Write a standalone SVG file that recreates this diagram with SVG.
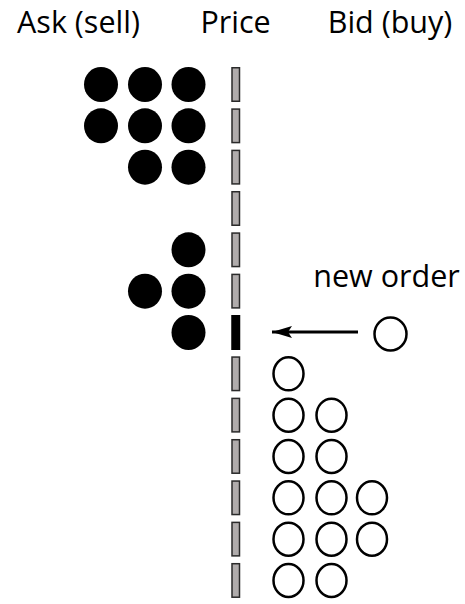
<svg xmlns="http://www.w3.org/2000/svg" width="465" height="604" viewBox="0 0 465 604">
<style>
text{font-family:"Open Sans","DejaVu Sans",sans-serif;font-size:30.5px;fill:#000;text-anchor:middle}
.bar{fill:#b0acac;stroke:#2a2a2a;stroke-width:1.5}
.ask{fill:#000}
.bid{fill:#fff;stroke:#000;stroke-width:2.5}
</style>
<defs>
<marker id="ah" markerWidth="20" markerHeight="12" refX="20" refY="6" orient="auto" markerUnits="userSpaceOnUse">
<path d="M20,6 L0,0 L4,6 L0,12 Z" fill="#000"/>
</marker>
</defs>
<g id="headers">
<text x="78.5" y="32.5">Ask (sell)</text>
<text x="235.5" y="32.5">Price</text>
<text x="390" y="32.5">Bid (buy)</text>
</g>
<g id="price-levels">
<rect class="bar" x="232" y="67.75" width="7.5" height="33.5"/>
<rect class="bar" x="232" y="109.08" width="7.5" height="33.5"/>
<rect class="bar" x="232" y="150.41" width="7.5" height="33.5"/>
<rect class="bar" x="232" y="191.74" width="7.5" height="33.5"/>
<rect class="bar" x="232" y="233.07" width="7.5" height="33.5"/>
<rect class="bar" x="232" y="274.4" width="7.5" height="33.5"/>
<rect id="match-level" x="231.25" y="315" width="9" height="35" fill="#000"/>
<rect class="bar" x="232" y="357.06" width="7.5" height="33.5"/>
<rect class="bar" x="232" y="398.39" width="7.5" height="33.5"/>
<rect class="bar" x="232" y="439.72" width="7.5" height="33.5"/>
<rect class="bar" x="232" y="481.05" width="7.5" height="33.5"/>
<rect class="bar" x="232" y="522.38" width="7.5" height="33.5"/>
<rect class="bar" x="232" y="563.71" width="7.5" height="33.5"/>
</g>
<g id="asks">
<ellipse class="ask" cx="101" cy="84.5" rx="17" ry="17.5"/>
<ellipse class="ask" cx="145" cy="84.5" rx="17" ry="17.5"/>
<ellipse class="ask" cx="188.5" cy="84.5" rx="17" ry="17.5"/>
<ellipse class="ask" cx="101" cy="125.83" rx="17" ry="17.5"/>
<ellipse class="ask" cx="145" cy="125.83" rx="17" ry="17.5"/>
<ellipse class="ask" cx="188.5" cy="125.83" rx="17" ry="17.5"/>
<ellipse class="ask" cx="145" cy="167.16" rx="17" ry="17.5"/>
<ellipse class="ask" cx="188.5" cy="167.16" rx="17" ry="17.5"/>
<ellipse class="ask" cx="188.5" cy="249.82" rx="17" ry="17.5"/>
<ellipse class="ask" cx="145" cy="291.15" rx="17" ry="17.5"/>
<ellipse class="ask" cx="188.5" cy="291.15" rx="17" ry="17.5"/>
<ellipse class="ask" cx="188.5" cy="332.48" rx="17" ry="17.5"/>
</g>
<g id="bids">
<ellipse class="bid" cx="288.5" cy="373.81" rx="15" ry="16.5"/>
<ellipse class="bid" cx="288.5" cy="415.14" rx="15" ry="16.5"/>
<ellipse class="bid" cx="331.5" cy="415.14" rx="15" ry="16.5"/>
<ellipse class="bid" cx="288.5" cy="456.47" rx="15" ry="16.5"/>
<ellipse class="bid" cx="331.5" cy="456.47" rx="15" ry="16.5"/>
<ellipse class="bid" cx="288.5" cy="497.8" rx="15" ry="16.5"/>
<ellipse class="bid" cx="331.5" cy="497.8" rx="15" ry="16.5"/>
<ellipse class="bid" cx="372" cy="497.8" rx="15" ry="16.5"/>
<ellipse class="bid" cx="288.5" cy="539.13" rx="15" ry="16.5"/>
<ellipse class="bid" cx="331.5" cy="539.13" rx="15" ry="16.5"/>
<ellipse class="bid" cx="372" cy="539.13" rx="15" ry="16.5"/>
<ellipse class="bid" cx="288.5" cy="580.46" rx="15" ry="16.5"/>
<ellipse class="bid" cx="331.5" cy="580.46" rx="15" ry="16.5"/>
</g>
<g id="new-order">
<ellipse class="bid" cx="390.5" cy="334" rx="16" ry="16.5"/>
<text x="386.5" y="287">new order</text>
</g>
<g id="connectors">
<line x1="358" y1="332" x2="272" y2="332" stroke="#000" stroke-width="3" marker-end="url(#ah)"/>
</g>
</svg>
